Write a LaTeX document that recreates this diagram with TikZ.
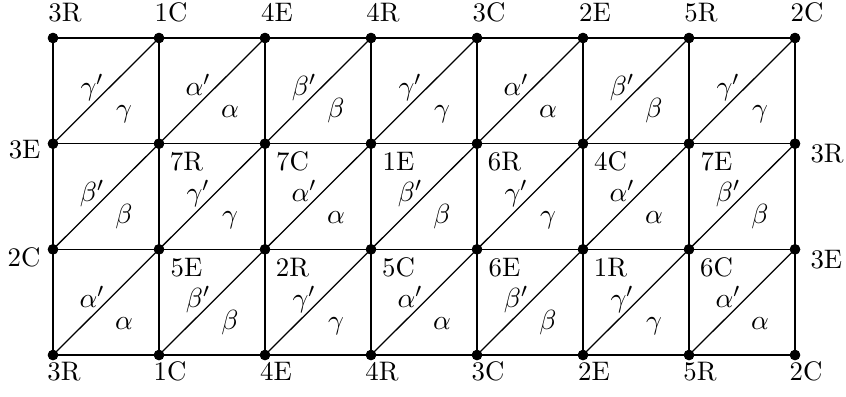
\documentclass[tikz,border=0pt]{standalone}
\usetikzlibrary{calc}
\begin{document}
\begin{tikzpicture}[x=0.0139cm,y=-0.0139cm,
  vtx/.style={circle,fill=black,inner sep=0pt,minimum size=4pt},
  edge/.style={line width=0.5pt},
  lab/.style={inner sep=0pt,anchor=base,font=\fontsize{10.6}{12}\selectfont},
  glab/.style={inner sep=0pt,anchor=base,font=\fontsize{11}{13}\selectfont}]
\useasboundingbox (0,0) rectangle (846,396);
% vertices
\foreach \i in {0,...,7}{
  \foreach \j in {0,...,3}{
    \node[vtx] (v\i\j) at ({53+106*\i},{38+105.67*\j}) {};
  }
}
% edges
\foreach \i in {0,...,6}{
  \pgfmathtruncatemacro{\ii}{\i+1}
  \foreach \j in {0,...,3}{
    \draw[edge] (v\i\j.center) -- (v\ii\j.center);
  }
  \foreach \j in {0,...,2}{
    \pgfmathtruncatemacro{\jj}{\j+1}
    \draw[edge] (v\i\jj.center) -- (v\ii\j.center);
  }
}
\foreach \i in {0,...,7}{
  \foreach \j in {0,...,2}{
    \pgfmathtruncatemacro{\jj}{\j+1}
    \draw[edge] (v\i\j.center) -- (v\i\jj.center);
  }
}
% redraw dots on top
\foreach \i in {0,...,7}{
  \foreach \j in {0,...,3}{
    \fill (v\i\j.center) circle[radius=2.1pt];
  }
}
% top and bottom labels
\foreach \t [count=\k from 0] in {3R,1C,4E,4R,3C,2E,5R,2C}{
  \node[lab] (top\k) at ($(v\k0)+(12,-17)$) {\t};
  \node[lab] (bot\k) at ($(v\k3)+(11,25)$) {\t};
}
% side labels
\node[lab,anchor=base east] (l1) at ($(v01)+(-12,15)$) {3E};
\node[lab,anchor=base east] (l2) at ($(v02)+(-12,17)$) {2C};
\node[lab,anchor=base west] (r1) at ($(v71)+(15,19)$) {3R};
\node[lab,anchor=base west] (r2) at ($(v72)+(15,19)$) {3E};
% interior labels
\foreach \t [count=\k from 1] in {7R,7C,1E,6R,4C,7E}{
  \node[lab] (a\k) at ($(v\k1)+(27.5,27)$) {\t};
}
\foreach \t [count=\k from 1] in {5E,2R,5C,6E,1R,6C}{
  \node[lab] (b\k) at ($(v\k2)+(27.5,27)$) {\t};
}
% greek letters
\foreach \g [count=\k from 0] in {\gamma,\alpha,\beta,\gamma,\alpha,\beta,\gamma}{
  \pgfmathtruncatemacro{\kk}{\k+1}
  \node[glab] (p\k0) at ($($(v\k0)!0.5!(v\kk1)$)+(-14,5)$) {$\g'$};
  \node[glab] (q\k0) at ($($(v\k0)!0.5!(v\kk1)$)+(18,27)$) {$\g$};
}
\foreach \g [count=\k from 0] in {\beta,\gamma,\alpha,\beta,\gamma,\alpha,\beta}{
  \pgfmathtruncatemacro{\kk}{\k+1}
  \node[glab] (p\k1) at ($($(v\k1)!0.5!(v\kk2)$)+(-14,5)$) {$\g'$};
  \node[glab] (q\k1) at ($($(v\k1)!0.5!(v\kk2)$)+(18,27)$) {$\g$};
}
\foreach \g [count=\k from 0] in {\alpha,\beta,\gamma,\alpha,\beta,\gamma,\alpha}{
  \pgfmathtruncatemacro{\kk}{\k+1}
  \node[glab] (p\k2) at ($($(v\k2)!0.5!(v\kk3)$)+(-14,5)$) {$\g'$};
  \node[glab] (q\k2) at ($($(v\k2)!0.5!(v\kk3)$)+(18,27)$) {$\g$};
}
\end{tikzpicture}
\end{document}
